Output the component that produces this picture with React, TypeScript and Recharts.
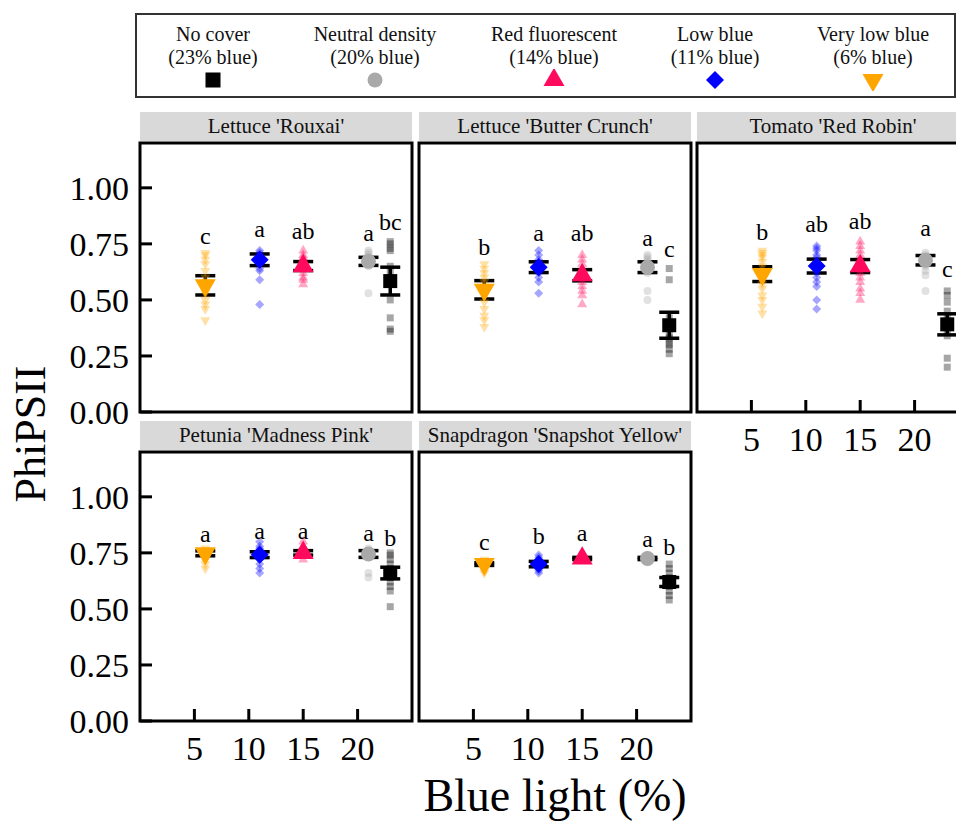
import React from 'react';
import { ScatterChart, Scatter, XAxis, YAxis, ErrorBar, ReferenceArea } from 'recharts';

// treatment order: very low blue, low blue, red fluorescent, neutral density, no cover
const treatmentX = [6, 11, 15, 21, 23];
const treatmentColors = ['#FFA500', '#0000FF', '#FF0A5C', '#A9A9A9', '#000000'];
const treatmentShapes = ['triangleDown', 'diamond', 'triangle', 'circle', 'square'];
const legendNames = ['Very low blue', 'Low blue', 'Red fluorescent', 'Neutral density', 'No cover'];
const legendBlue = ['(6% blue)', '(11% blue)', '(14% blue)', '(20% blue)', '(23% blue)'];
const legendOrder = [4, 3, 2, 1, 0];

const xTicks = [5, 10, 15, 20];
const yTicks = [0, 0.25, 0.5, 0.75, 1];

const speciesNames = [
  "Lettuce 'Rouxai'",
  "Lettuce 'Butter Crunch'",
  "Tomato 'Red Robin'",
  "Petunia 'Madness Pink'",
  "Snapdragon 'Snapshot Yellow'",
];

// Lettuce 'Rouxai'
const rouxaiMean = [0.565, 0.679, 0.651, 0.672, 0.584];
const rouxaiSE = [0.043, 0.026, 0.02, 0.018, 0.062];
const rouxaiLetters = ['c', 'a', 'ab', 'a', 'bc'];
const rouxaiLetterY = [0.785, 0.82, 0.81, 0.8, 0.85];
const rouxaiObs = [
  [0.71, 0.7, 0.68, 0.66, 0.63, 0.6, 0.58, 0.56, 0.55, 0.53, 0.5, 0.48, 0.46, 0.41],
  [0.72, 0.71, 0.7, 0.69, 0.68, 0.67, 0.66, 0.64, 0.63, 0.59, 0.48],
  [0.72, 0.7, 0.69, 0.68, 0.66, 0.65, 0.64, 0.62, 0.6, 0.59, 0.57],
  [0.72, 0.71, 0.7, 0.69, 0.68, 0.67, 0.66, 0.65, 0.53],
  [0.76, 0.75, 0.73, 0.72, 0.65, 0.62, 0.6, 0.5, 0.42, 0.37, 0.36],
];

// Lettuce 'Butter Crunch'
const butterMean = [0.545, 0.646, 0.61, 0.646, 0.387];
const butterSE = [0.041, 0.024, 0.025, 0.024, 0.058];
const butterLetters = ['b', 'a', 'ab', 'a', 'c'];
const butterLetterY = [0.74, 0.8, 0.8, 0.78, 0.73];
const butterObs = [
  [0.66, 0.64, 0.62, 0.6, 0.58, 0.56, 0.54, 0.52, 0.49, 0.46, 0.43, 0.41, 0.38],
  [0.72, 0.7, 0.68, 0.67, 0.66, 0.65, 0.64, 0.62, 0.6, 0.58, 0.53],
  [0.7, 0.68, 0.66, 0.64, 0.63, 0.62, 0.6, 0.58, 0.56, 0.54, 0.52, 0.48],
  [0.7, 0.69, 0.68, 0.67, 0.66, 0.65, 0.64, 0.62, 0.54, 0.5],
  [0.64, 0.59, 0.42, 0.38, 0.35, 0.33, 0.31, 0.3, 0.28, 0.26],
];

// Tomato 'Red Robin'
const tomatoMean = [0.615, 0.651, 0.651, 0.677, 0.391];
const tomatoSE = [0.033, 0.031, 0.029, 0.021, 0.047];
const tomatoLetters = ['b', 'ab', 'ab', 'a', 'c'];
const tomatoLetterY = [0.805, 0.84, 0.855, 0.824, 0.64];
const tomatoObs = [
  [0.72, 0.71, 0.7, 0.69, 0.67, 0.65, 0.63, 0.61, 0.59, 0.57, 0.55, 0.52, 0.5, 0.47, 0.44],
  [0.74, 0.73, 0.72, 0.7, 0.69, 0.67, 0.66, 0.64, 0.62, 0.6, 0.58, 0.56, 0.5, 0.46],
  [0.76, 0.74, 0.72, 0.7, 0.68, 0.66, 0.64, 0.62, 0.6, 0.58, 0.55, 0.53, 0.5],
  [0.71, 0.7, 0.69, 0.68, 0.67, 0.66, 0.65, 0.63, 0.61, 0.54],
  [0.54, 0.52, 0.49, 0.45, 0.42, 0.37, 0.34, 0.24, 0.2],
];

// Petunia 'Madness Pink'
const petuniaMean = [0.748, 0.742, 0.75, 0.745, 0.66];
const petuniaSE = [0.011, 0.013, 0.01, 0.015, 0.026];
const petuniaLetters = ['a', 'a', 'a', 'a', 'b'];
const petuniaLetterY = [0.838, 0.85, 0.85, 0.84, 0.82];
const petuniaObs = [
  [0.77, 0.76, 0.75, 0.74, 0.73, 0.72, 0.7, 0.68],
  [0.8, 0.78, 0.77, 0.76, 0.75, 0.74, 0.73, 0.72, 0.7, 0.68, 0.66],
  [0.8, 0.78, 0.77, 0.76, 0.75, 0.74, 0.72],
  [0.77, 0.76, 0.75, 0.74, 0.73, 0.66, 0.64],
  [0.75, 0.74, 0.72, 0.7, 0.68, 0.66, 0.64, 0.62, 0.6, 0.58, 0.51],
];

// Snapdragon 'Snapshot Yellow'
const snapMean = [0.7, 0.7, 0.725, 0.725, 0.62];
const snapSE = [0.006, 0.012, 0.005, 0.005, 0.02];
const snapLetters = ['c', 'b', 'a', 'a', 'b'];
const snapLetterY = [0.8, 0.828, 0.84, 0.815, 0.778];
const snapObs = [
  [0.72, 0.71, 0.7, 0.69, 0.68, 0.66],
  [0.74, 0.73, 0.72, 0.71, 0.7, 0.69, 0.68, 0.67, 0.66],
  [0.75, 0.74, 0.73, 0.72],
  [0.74, 0.73, 0.72, 0.71],
  [0.7, 0.68, 0.66, 0.64, 0.62, 0.6, 0.58, 0.56, 0.54],
];

const panelMeans = [rouxaiMean, butterMean, tomatoMean, petuniaMean, snapMean];
const panelSE = [rouxaiSE, butterSE, tomatoSE, petuniaSE, snapSE];
const panelLetters = [rouxaiLetters, butterLetters, tomatoLetters, petuniaLetters, snapLetters];
const panelLetterY = [rouxaiLetterY, butterLetterY, tomatoLetterY, petuniaLetterY, snapLetterY];
const panelObs = [rouxaiObs, butterObs, tomatoObs, petuniaObs, snapObs];

const FONT = "'Times New Roman', 'Liberation Serif', serif";
const PW = 272;
const PH = 269;
const ML = 140;
const MR = 12;
const MT = 12;
const MB = 60;
const YW = 60;
const XH = 50;

const panelBoxes = [
  { left: 140, top: 143, showX: false, showY: true },
  { left: 419, top: 143, showX: false, showY: false },
  { left: 697, top: 143, showX: true, showY: false },
  { left: 140, top: 452, showX: true, showY: true },
  { left: 419, top: 452, showX: true, showY: false },
];

const meanSize = [21, 18, 21, 15, 14];
const obsSize = [10, 9, 10, 8, 7];

const Marker = ({ kind, cx, cy, s, fill, opacity = 1 }: any) => {
  const h = s * 0.87;
  if (kind === 'triangle') {
    return (
      <polygon
        points={`${cx - s / 2},${cy + h / 3} ${cx + s / 2},${cy + h / 3} ${cx},${cy - (2 * h) / 3}`}
        fill={fill}
        fillOpacity={opacity}
      />
    );
  }
  if (kind === 'triangleDown') {
    return (
      <polygon
        points={`${cx - s / 2},${cy - h / 3} ${cx + s / 2},${cy - h / 3} ${cx},${cy + (2 * h) / 3}`}
        fill={fill}
        fillOpacity={opacity}
      />
    );
  }
  if (kind === 'diamond') {
    const d = s / 2;
    return (
      <polygon
        points={`${cx},${cy - d} ${cx + d},${cy} ${cx},${cy + d} ${cx - d},${cy}`}
        fill={fill}
        fillOpacity={opacity}
      />
    );
  }
  if (kind === 'circle') {
    return <circle cx={cx} cy={cy} r={s / 2} fill={fill} fillOpacity={opacity} />;
  }
  return <rect x={cx - s / 2} y={cy - s / 2} width={s} height={s} fill={fill} fillOpacity={opacity} />;
};

// tickSize and tickMargin are 0, so x/y given to these is the axis line itself
const XTick = ({ x, y, payload }: any) => (
  <g>
    <line x1={x} x2={x} y1={y} y2={y - 12} stroke="#000" strokeWidth={3} />
    <text x={x} y={y + 39} textAnchor="middle" fontSize={34} fontFamily={FONT} fill="#000">
      {payload.value}
    </text>
  </g>
);

const YTick = ({ x, y, payload }: any) => (
  <g>
    <line x1={x} x2={x + 12} y1={y} y2={y} stroke="#000" strokeWidth={3} />
    <text x={x - 11} y={y} dy="0.35em" textAnchor="end" fontSize={34} fontFamily={FONT} fill="#000">
      {Number(payload.value).toFixed(2)}
    </text>
  </g>
);

const Panel = ({ idx }: { idx: number }) => {
  const box = panelBoxes[idx];
  const obs = panelObs[idx].flatMap((vals, t) => vals.map((v) => ({ x: treatmentX[t], y: v, t })));
  const means = panelMeans[idx].map((m, t) => ({ x: treatmentX[t], y: m, se: panelSE[idx][t], t }));
  const letters = panelLetters[idx].map((l, t) => ({ x: treatmentX[t], y: panelLetterY[idx][t], label: l }));

  return (
    <>
      <div
        style={{
          position: 'absolute',
          left: box.left,
          top: box.top - 31,
          width: PW,
          height: 29,
          background: '#D9D9D9',
          fontFamily: FONT,
          fontSize: 21,
          lineHeight: '29px',
          textAlign: 'center',
          color: '#111',
        }}
      >
        {speciesNames[idx]}
      </div>
      <div style={{ position: 'absolute', left: box.left - ML, top: box.top - MT }}>
        <ScatterChart
          width={ML + PW + MR}
          height={MT + PH + MB}
          margin={{
            top: MT,
            right: MR,
            bottom: MB - (box.showX ? XH : 0),
            left: ML - (box.showY ? YW : 0),
          }}
        >
          <XAxis
            type="number"
            dataKey="x"
            domain={[0, 25]}
            ticks={xTicks}
            interval={0}
            hide={!box.showX}
            height={XH}
            tickSize={0}
            tickMargin={0}
            axisLine={false}
            tickLine={false}
            tick={<XTick />}
          />
          <YAxis
            type="number"
            dataKey="y"
            domain={[0, 1.2]}
            ticks={yTicks}
            interval={0}
            hide={!box.showY}
            width={YW}
            tickSize={0}
            tickMargin={0}
            axisLine={false}
            tickLine={false}
            tick={<YTick />}
          />
          <ReferenceArea x1={0} x2={25} y1={0} y2={1.2} fill="none" stroke="#000" strokeWidth={3} />
          <Scatter
            data={obs}
            isAnimationActive={false}
            shape={(p: any) => (
              <Marker
                kind={treatmentShapes[p.payload.t]}
                cx={p.cx}
                cy={p.cy}
                s={obsSize[p.payload.t]}
                fill={treatmentColors[p.payload.t]}
                opacity={0.35}
              />
            )}
          />
          <Scatter
            data={means}
            isAnimationActive={false}
            shape={(p: any) => (
              <Marker
                kind={treatmentShapes[p.payload.t]}
                cx={p.cx}
                cy={p.cy}
                s={meanSize[p.payload.t]}
                fill={treatmentColors[p.payload.t]}
              />
            )}
          />
          <Scatter data={means} isAnimationActive={false} shape={() => <g />}>
            <ErrorBar dataKey="se" direction="y" width={10} stroke="#000" strokeWidth={3.5} isAnimationActive={false} />
          </Scatter>
          <Scatter
            data={letters}
            isAnimationActive={false}
            shape={(p: any) => (
              <text x={p.cx} y={p.cy} dy="0.35em" textAnchor="middle" fontSize={24} fontFamily={FONT} fill="#000">
                {p.payload.label}
              </text>
            )}
          />
        </ScatterChart>
      </div>
    </>
  );
};

const legendCenters = [213, 375, 554, 715, 873];

const Legend = () => (
  <div
    style={{
      position: 'absolute',
      left: 135,
      top: 13,
      width: 821,
      height: 85,
      border: '2px solid #333',
      boxSizing: 'border-box',
      fontFamily: FONT,
      fontSize: 20,
      lineHeight: '23px',
      color: '#111',
    }}
  >
    {legendOrder.map((t, i) => (
      <div
        key={t}
        style={{ position: 'absolute', left: legendCenters[i] - 137 - 90, top: 8, width: 180, textAlign: 'center' }}
      >
        <div>{legendNames[t]}</div>
        <div>{legendBlue[t]}</div>
        <svg width={26} height={22} style={{ display: 'block', margin: '0 auto' }}>
          <Marker kind={treatmentShapes[t]} cx={13} cy={11} s={t === 3 || t === 4 ? 15 : t === 1 ? 18 : 21} fill={treatmentColors[t]} />
        </svg>
      </div>
    ))}
  </div>
);

export default function App() {
  return (
    <div
      style={{
        position: 'absolute',
        left: 0,
        top: 0,
        width: 956,
        height: 821,
        overflow: 'hidden',
        background: '#fff',
      }}
    >
      <Legend />
      {[0, 1, 2, 3, 4].map((i) => (
        <Panel key={i} idx={i} />
      ))}
      <div
        style={{
          position: 'absolute',
          left: 31 - 100,
          top: 434 - 28,
          width: 200,
          height: 56,
          lineHeight: '56px',
          textAlign: 'center',
          transform: 'rotate(-90deg)',
          fontFamily: FONT,
          fontSize: 44,
          color: '#000',
        }}
      >
        PhiPSII
      </div>
      <div
        style={{
          position: 'absolute',
          left: 555 - 200,
          top: 772,
          width: 400,
          height: 48,
          lineHeight: '48px',
          textAlign: 'center',
          fontFamily: FONT,
          fontSize: 46,
          color: '#000',
        }}
      >
        Blue light (%)
      </div>
    </div>
  );
}
